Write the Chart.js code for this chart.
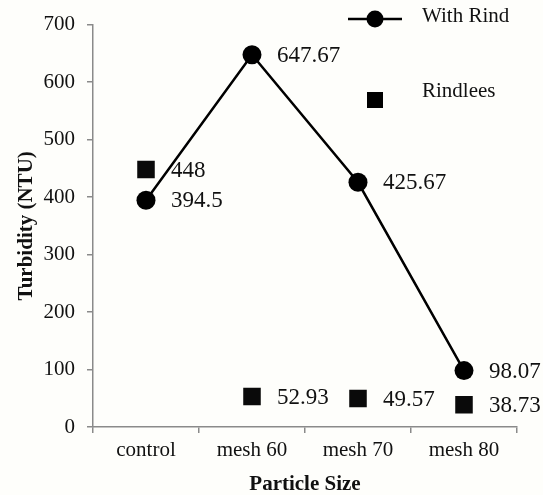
<!DOCTYPE html>
<html>
<head>
<meta charset="utf-8">
<script src="https://cdn.jsdelivr.net/npm/chart.js@4"></script>
<style>
  html, body { margin: 0; padding: 0; background: #fefefb; }
  #wrap { width: 543px; height: 495px; }
</style>
</head>
<body>
<div id="wrap"><canvas id="turbidityChart"></canvas></div>
<script>
// chart values
var categories = ['control', 'mesh 60', 'mesh 70', 'mesh 80'];
var withRind = [394.5, 647.67, 425.67, 98.07];
var rindless = [448, 52.93, 49.57, 38.73];
var yTicks = [0, 100, 200, 300, 400, 500, 600, 700];

var serif = "'Liberation Serif', 'Times New Roman', serif";
var axisGray = '#8a8a8a';

// value labels to the right of each point
var valueLabels = {
    id: 'valueLabels',
    afterDatasetsDraw: function (chart) {
        var ctx = chart.ctx;
        ctx.save();
        ctx.font = '23px ' + serif;
        ctx.fillStyle = '#111';
        ctx.textAlign = 'left';
        ctx.textBaseline = 'middle';
        chart.data.datasets.forEach(function (ds, i) {
            chart.getDatasetMeta(i).data.forEach(function (pt, j) {
                ctx.fillText(String(ds.data[j]), pt.x + 25, pt.y + 1);
            });
        });
        ctx.restore();
    }
};

// legend drawn like the original (top right, entries stacked loosely)
var legendBox = {
    id: 'legendBox',
    afterDraw: function (chart) {
        var ctx = chart.ctx;
        ctx.save();
        ctx.strokeStyle = '#000';
        ctx.lineWidth = 2.5;
        ctx.beginPath();
        ctx.moveTo(348, 19);
        ctx.lineTo(402, 19);
        ctx.stroke();
        ctx.fillStyle = '#000';
        ctx.beginPath();
        ctx.arc(375, 19, 8.5, 0, Math.PI * 2);
        ctx.fill();
        ctx.fillRect(367, 92, 16, 16);
        ctx.font = '21px ' + serif;
        ctx.fillStyle = '#111';
        ctx.textAlign = 'left';
        ctx.textBaseline = 'middle';
        ctx.fillText(chart.data.datasets[0].label, 422, 16);
        ctx.fillText(chart.data.datasets[1].label, 422, 91);
        ctx.restore();
    }
};

var ctx = document.getElementById('turbidityChart').getContext('2d');
var chart = new Chart(ctx, {
    type: 'line',
    data: {
        labels: categories,
        datasets: [{
            label: 'With Rind',
            data: withRind,
            borderColor: '#000',
            borderWidth: 2.5,
            backgroundColor: '#000',
            pointRadius: 9.5,
            pointStyle: 'circle',
            pointBorderWidth: 0,
            tension: 0
        }, {
            label: 'Rindlees',
            data: rindless,
            showLine: false,
            borderColor: '#000',
            backgroundColor: '#0a0a0a',
            pointRadius: 12.4,
            pointStyle: 'rect',
            pointBorderWidth: 0
        }]
    },
    options: {
        responsive: true,
        maintainAspectRatio: false,
        animation: false,
        layout: { padding: { top: 23, right: 26, left: 0, bottom: 0 } },
        plugins: {
            legend: { display: false },
            tooltip: { enabled: false }
        },
        scales: {
            x: {
                offset: true,
                grid: { offset: true, drawOnChartArea: false, drawTicks: true, tickLength: 6, color: axisGray, lineWidth: 1.5 },
                border: { color: axisGray, width: 1.5 },
                ticks: { color: '#111', font: { family: serif, size: 21 }, padding: 5, maxRotation: 0 },
                title: { display: true, text: 'Particle Size', color: '#111', font: { family: serif, size: 21, weight: 'bold', lineHeight: 1 }, padding: { top: 0, bottom: 0 } },
                afterFit: function (scale) { scale.height = 68; }
            },
            y: {
                min: 0,
                max: 700,
                afterBuildTicks: function (scale) {
                    scale.ticks = yTicks.map(function (v) { return { value: v }; });
                },
                grid: { drawOnChartArea: false, drawTicks: true, tickLength: 6, color: axisGray, lineWidth: 1.5 },
                border: { color: axisGray, width: 1.5 },
                ticks: { color: '#111', font: { family: serif, size: 21 }, padding: 12 },
                title: { display: true, text: 'Turbidity (NTU)', color: '#111', font: { family: serif, size: 21, weight: 'bold' }, padding: { top: 14, bottom: 0 } },
                afterFit: function (scale) { scale.width = 93; }
            }
        }
    },
    plugins: [valueLabels, legendBox]
});
</script>
</body>
</html>
